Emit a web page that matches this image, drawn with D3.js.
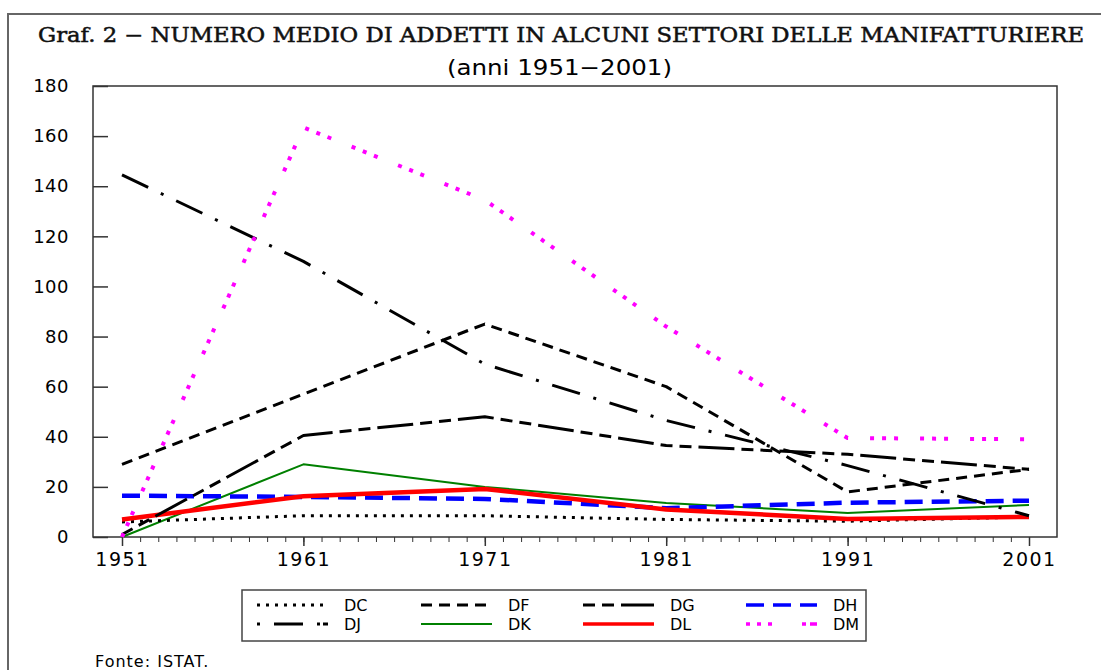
<!DOCTYPE html>
<html>
<head>
<meta charset="utf-8">
<script src="https://cdn.jsdelivr.net/npm/d3@7"></script>
<style>
	body { margin: 0; background: #fff; }
	svg { display: block; }
</style>
</head>
<body>
<div class="canvas"></div>
<script>
// data
const years = [1951, 1961, 1971, 1981, 1991, 2001];
const yTicks = [0, 20, 40, 60, 80, 100, 120, 140, 160, 180];
const seriesNames = ['DC', 'DF', 'DG', 'DH', 'DJ', 'DK', 'DL', 'DM'];

const DC = [6, 8.5, 8.5, 7, 6.3, 8];
const DF = [29, 57, 85, 60, 18, 27];
const DG = [1, 40.5, 48, 36.5, 33, 27];
const DH = [16.5, 16, 15.2, 11.5, 13.7, 14.5];
const DJ = [144.5, 110, 69, 46.5, 28.5, 8.5];
const DK = [0, 29, 20, 13.6, 9.6, 12.8];
const DL = [7, 16.3, 19.2, 11, 7.2, 8];
const DM = [0, 163.5, 134.5, 84, 39.5, 39];

const values = { DC, DF, DG, DH, DJ, DK, DL, DM };

// line styles
const styles = {
	DC: { color: '#000', width: 3, dash: '3,6' },
	DF: { color: '#000', width: 3, dash: '11,7' },
	DG: { color: '#000', width: 3, dash: '12,7,12,7,36,7' },
	DH: { color: '#0000ff', width: 4.5, dash: '18,9' },
	DJ: { color: '#000', width: 3, dash: '29,14,3,14' },
	DK: { color: '#008000', width: 2, dash: null },
	DL: { color: '#ff0000', width: 4.5, dash: null },
	DM: { color: '#ff00ff', width: 4, dash: '4,8,4,8,4,22' }
};

const svg = d3.select('.canvas')
	.append('svg')
	.attr('width', 1101)
	.attr('height', 670);

// outer frame
svg.append('rect')
	.attr('x', 8)
	.attr('y', 14)
	.attr('width', 1120)
	.attr('height', 700)
	.attr('fill', 'none')
	.attr('stroke', '#666')
	.attr('stroke-width', 2);

// titles
svg.append('text')
	.attr('x', 38)
	.attr('y', 42)
	.attr('textLength', 1046)
	.attr('lengthAdjust', 'spacingAndGlyphs')
	.attr('font-family', 'DejaVu Serif, serif')
	.attr('font-size', 20)
	.attr('fill', '#111')
	.attr('stroke', '#111')
	.attr('stroke-width', 0.5)
	.text('Graf. 2 \u2212 NUMERO MEDIO DI ADDETTI IN ALCUNI SETTORI DELLE MANIFATTURIERE');

svg.append('text')
	.attr('x', 447)
	.attr('y', 75)
	.attr('textLength', 225)
	.attr('lengthAdjust', 'spacingAndGlyphs')
	.attr('font-family', 'DejaVu Sans')
	.attr('font-size', 21)
	.attr('fill', '#000')
	.text('(anni 1951\u22122001)');

// scales
const x = d3.scaleLinear()
	.domain([1951, 2001])
	.range([122, 1029]);

const y = d3.scaleLinear()
	.domain([0, 180])
	.range([537, 86]);

// plot box
svg.append('rect')
	.attr('x', 93)
	.attr('y', y(180))
	.attr('width', 1057 - 93)
	.attr('height', y(0) - y(180))
	.attr('fill', 'none')
	.attr('stroke', '#333')
	.attr('stroke-width', 1.5);

// y axis (ticks inward)
const yAxis = d3.axisLeft(y)
	.tickValues(yTicks)
	.tickSizeInner(-15)
	.tickSizeOuter(0)
	.tickPadding(24);

const yAxisGroup = svg.append('g')
	.attr('transform', 'translate(93,0)')
	.call(yAxis);
yAxisGroup.select('.domain').remove();
yAxisGroup.selectAll('line').attr('stroke', '#333').attr('stroke-width', 1.5);
yAxisGroup.selectAll('text')
	.attr('font-family', 'DejaVu Sans')
	.attr('font-size', 18)
	.attr('letter-spacing', 0.5)
	.attr('fill', '#000');

// x axis: minor ticks each year, major each decade
const xMinor = d3.axisBottom(x)
	.tickValues(d3.range(1951, 2002))
	.tickSize(5)
	.tickFormat('');
const xMinorGroup = svg.append('g')
	.attr('transform', `translate(0,${y(0)})`)
	.call(xMinor);
xMinorGroup.select('.domain').remove();
xMinorGroup.selectAll('line').attr('stroke', '#333');

const xAxis = d3.axisBottom(x)
	.tickValues(years)
	.tickSize(9)
	.tickPadding(7)
	.tickFormat(d3.format('d'));
const xAxisGroup = svg.append('g')
	.attr('transform', `translate(0,${y(0)})`)
	.call(xAxis);
xAxisGroup.select('.domain').remove();
xAxisGroup.selectAll('line').attr('stroke', '#333').attr('stroke-width', 1.5);
xAxisGroup.selectAll('text')
	.attr('font-family', 'DejaVu Sans')
	.attr('font-size', 19)
	.attr('letter-spacing', 1.5)
	.attr('fill', '#000');

// lines
const line = d3.line()
	.x((d, i) => x(years[i]))
	.y(d => y(d));

const order = ['DK', 'DH', 'DC', 'DL', 'DF', 'DG', 'DJ', 'DM'];
svg.append('g')
	.selectAll('path')
	.data(order)
	.enter()
	.append('path')
	.attr('d', d => line(values[d]))
	.attr('fill', 'none')
	.attr('stroke', d => styles[d].color)
	.attr('stroke-width', d => styles[d].width)
	.attr('stroke-dasharray', d => styles[d].dash)
	.attr('stroke-linejoin', 'round');

// legend
svg.append('rect')
	.attr('x', 242)
	.attr('y', 590)
	.attr('width', 624)
	.attr('height', 51)
	.attr('fill', '#fff')
	.attr('stroke', '#444')
	.attr('stroke-width', 1.5);

const colX = [257, 421, 583, 746];
const rowY = [605, 624];

const legendItems = svg.append('g')
	.selectAll('g')
	.data(seriesNames)
	.enter()
	.append('g')
	.attr('transform', (d, i) => `translate(${colX[i % 4]},${rowY[Math.floor(i / 4)]})`);

legendItems.append('line')
	.attr('x1', 0)
	.attr('x2', 71)
	.attr('y1', 0)
	.attr('y2', 0)
	.attr('stroke', d => styles[d].color)
	.attr('stroke-width', d => Math.min(styles[d].width, 3.5))
	.attr('stroke-dasharray', d => d === 'DJ' ? '3,14,29,14,3' : d === 'DM' ? '4,7,4,7,4,30,4' : styles[d].dash);

legendItems.append('text')
	.attr('x', 87)
	.attr('y', 6)
	.attr('font-family', 'DejaVu Sans')
	.attr('font-size', 16)
	.attr('fill', '#000')
	.text(d => d);

// source
svg.append('text')
	.attr('x', 95)
	.attr('y', 667)
	.attr('font-family', 'DejaVu Sans')
	.attr('font-size', 16)
	.attr('letter-spacing', 1)
	.attr('fill', '#000')
	.text('Fonte: ISTAT.');
</script>
</body>
</html>
